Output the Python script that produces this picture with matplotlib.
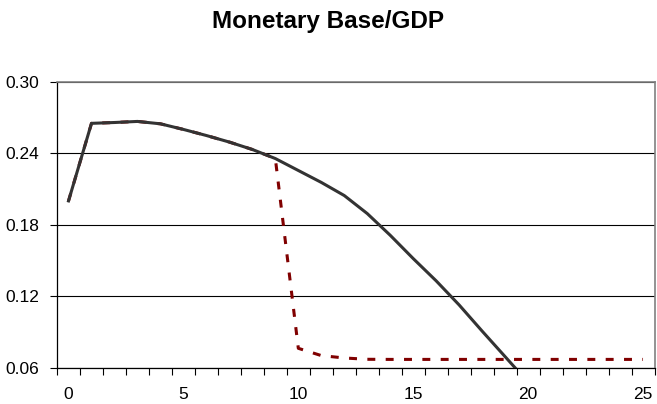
import numpy as np
import matplotlib
matplotlib.use("Agg")
import matplotlib.pyplot as plt
from matplotlib.ticker import FixedLocator

plt.rcParams["font.family"] = ["Liberation Sans", "DejaVu Sans"]

# Data (category index -> value)
title = "Monetary Base/GDP"
baseline = [0.200, 0.265, 0.2657, 0.2666, 0.2646, 0.2599, 0.2548, 0.2493,
            0.2431, 0.2355, 0.2255, 0.2155, 0.2045, 0.1894, 0.1712, 0.1517,
            0.1330, 0.1128, 0.0909, 0.0695, 0.0480]
alternative = [0.200, 0.265, 0.2657, 0.2666, 0.2646, 0.2599, 0.2548, 0.2493,
               0.2431, 0.2355, 0.0765, 0.0704, 0.0684, 0.0673, 0.0672, 0.0672,
               0.0672, 0.0672, 0.0672, 0.0672, 0.0672, 0.0672, 0.0672, 0.0672,
               0.0672, 0.0672]
x_ticks = [0, 5, 10, 15, 20, 25]
y_ticks = [0.06, 0.12, 0.18, 0.24, 0.30]

fig = plt.figure(figsize=(6.57, 4.04), dpi=100)
ax = fig.add_axes([0.0868, 0.0891, 0.9094, 0.709])

ax.plot(range(len(alternative)), alternative, color="#800000", lw=2.2,
        linestyle=(0, (2.6, 3.4)), dash_capstyle="butt", zorder=3)
ax.plot(range(len(baseline)), baseline, color="#333333", lw=2.2,
        solid_joinstyle="round", zorder=4)

ax.set_xlim(-0.5, 25.5)
ax.set_ylim(0.06, 0.30)

ax.set_yticks(y_ticks)
ax.set_yticklabels([f"{v:.2f}" for v in y_ticks])
ax.yaxis.grid(True, color="black", lw=0.8)
ax.set_axisbelow(True)

ax.set_xticks(x_ticks)
ax.set_xticklabels([str(v) for v in x_ticks])
ax.xaxis.set_minor_locator(FixedLocator(np.arange(-0.5, 26, 1.0)))
ax.tick_params(axis="x", which="major", length=0, pad=14, labelsize=12.5)
ax.tick_params(axis="x", which="minor", length=5, width=0.8, direction="out")
ax.tick_params(axis="y", which="major", length=5, width=0.8, pad=8, labelsize=12.5)

for side in ["left", "bottom"]:
    ax.spines[side].set_color("black")
    ax.spines[side].set_linewidth(0.9)
for side in ["top", "right"]:
    ax.spines[side].set_color("#808080")
    ax.spines[side].set_linewidth(1.2)

fig.text(0.5, 0.946, title, ha="center", va="center", fontsize=17.5,
         fontweight="bold")

fig.savefig("out.png", dpi=100, facecolor="white")
